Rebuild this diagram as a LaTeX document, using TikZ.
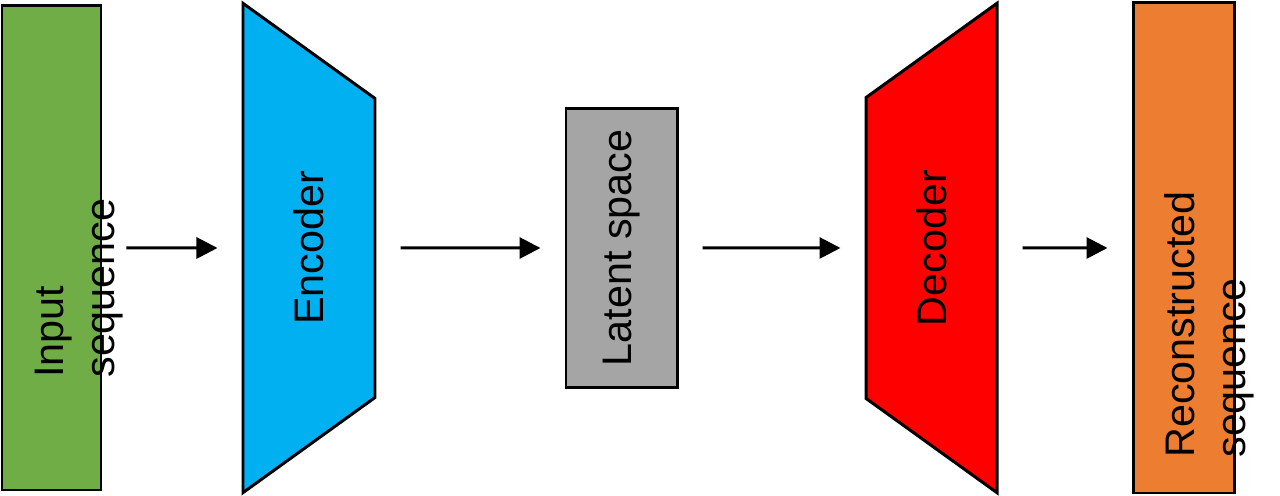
\documentclass[tikz,border=0pt]{standalone}
\usepackage{graphicx}
\usepackage{fontspec}
\setmainfont{Liberation Sans}
\usetikzlibrary{arrows.meta,shapes.geometric}
\definecolor{ingreen}{HTML}{70AD47}
\definecolor{encblue}{HTML}{00B0F0}
\definecolor{latgray}{HTML}{A5A5A5}
\definecolor{decred}{HTML}{FF0000}
\definecolor{outorange}{HTML}{ED7D31}
\newcommand{\lblfont}{\fontsize{23.5}{29}\selectfont}

\begin{document}
\begin{tikzpicture}[x=0.2mm,y=0.2mm,>=Latex,
box/.style={draw,line width=1.7pt,inner sep=0pt,font=\lblfont},
trap/.style={box,trapezium,trapezium stretches=true,trapezium left angle=31.8,trapezium right angle=31.8},
lbl/.style={font=\lblfont,rotate=90,anchor=south west,align=left,inner sep=0pt},
flow/.style={-{Triangle[length=4.2mm,width=4.2mm]},line width=1.7pt,shorten <=4.8mm,shorten >=4.8mm}]
\useasboundingbox (0,0) rectangle (1280,496);
\node[box,fill=ingreen,minimum width=1.98cm,minimum height=9.68cm] (input) at (51.5,248) {};
\node[lbl] (inputlbl) at (123,118) {Input\\sequence};
\node[trap,shape border rotate=270,fill=encblue,minimum width=9.8cm,minimum height=2.64cm] (enc) at (309,248) {\rotatebox{90}{Encoder}};
\node[box,fill=latgray,minimum width=2.22cm,minimum height=5.58cm] (latent) at (621.5,248) {\rotatebox{90}{Latent space}};
\node[trap,shape border rotate=90,fill=decred,minimum width=9.8cm,minimum height=2.62cm] (dec) at (931.5,248) {\rotatebox{90}{Decoder}};
\node[box,fill=outorange,minimum width=2.02cm,minimum height=9.8cm] (output) at (1183.5,248) {};
\node[lbl] (outputlbl) at (1254,38) {Reconstructed\\sequence};
\draw[flow] (input) -- (enc);
\draw[flow] (enc) -- (latent);
\draw[flow] (latent) -- (dec);
\draw[flow] (dec) -- (output);
\end{tikzpicture}
\end{document}
